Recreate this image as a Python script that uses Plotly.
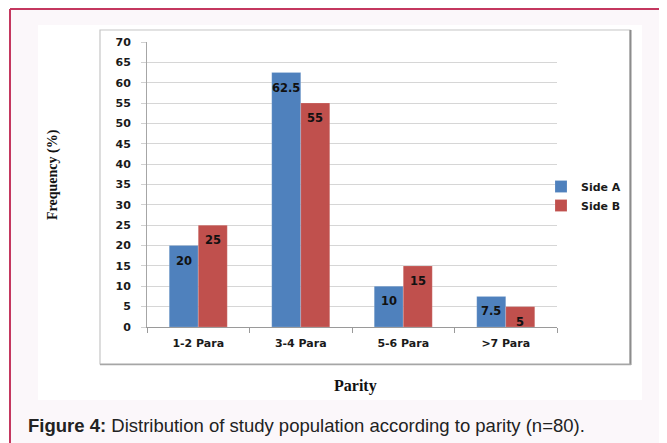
import plotly.graph_objects as go

categories = ["1-2 Para", "3-4 Para", "5-6 Para", ">7 Para"]
side_a = [20, 62.5, 10, 7.5]
side_b = [25, 55, 15, 5]
series_names = ["Side A", "Side B"]
y_ticks = list(range(0, 75, 5))

# page is offset by the default 8px body margin
OFF = 8
W, H = 667 - OFF, 443 - OFF
# plot area in page coordinates: x 147..557, y 42..327
PX0, PX1, PY0, PY1 = 147, 557, 42, 327
ML, MT = PX0 - OFF, PY0 - OFF
MR, MB = 667 - PX1, 443 - PY1
PW = PX1 - PX0
PH = PY1 - PY0


def px(x):
    return (x - PX0) / PW


def py(y):
    return (PY1 - y) / PH


BLUE = "#4f81bd"
RED = "#c0504d"
TICKFONT = dict(family="DejaVu Sans", size=11, color="#1a1a1a", weight="bold")

fig = go.Figure()
for name, vals, col in [(series_names[0], side_a, BLUE), (series_names[1], side_b, RED)]:
    fig.add_trace(go.Bar(
        x=categories, y=vals, name=name,
        marker=dict(color=col, line=dict(color="rgba(255,255,255,0.35)", width=0.5)),
    ))

# data labels
for vals, shift in [(side_a, -14.5), (side_b, 14.5)]:
    for c, v in zip(categories, vals):
        fig.add_annotation(
            x=c, y=v, xref="x", yref="y", text="%g" % v,
            showarrow=False, xshift=shift, yshift=-15, yanchor="middle",
            font=dict(family="DejaVu Sans", size=11.5, color="#111111", weight="bold"),
        )

shapes = [
    dict(type="rect", xref="paper", yref="paper", x0=px(10), x1=px(667), y0=py(443), y1=py(9),
         fillcolor="#fbf7fa", line=dict(width=0), layer="below"),
    dict(type="rect", xref="paper", yref="paper", x0=px(38), x1=px(642), y0=py(400), y1=py(25),
         fillcolor="#ffffff", line=dict(width=0), layer="below"),
    dict(type="rect", xref="paper", yref="paper", x0=px(100), x1=px(630), y0=py(364), y1=py(30),
         fillcolor="#ffffff", line=dict(color="#c6c6c6", width=1.2), layer="below"),
    dict(type="line", xref="paper", yref="paper", x0=px(630.5), x1=px(630.5), y0=py(365), y1=py(30),
         line=dict(color="#8c8c8c", width=2), layer="below"),
    dict(type="line", xref="paper", yref="paper", x0=px(100), x1=px(631), y0=py(364.5), y1=py(364.5),
         line=dict(color="#a6a6a6", width=1.5), layer="below"),
    dict(type="line", xref="paper", yref="paper", x0=px(10), x1=px(667), y0=py(9), y1=py(9),
         line=dict(color="#c4375f", width=2), layer="below"),
    dict(type="line", xref="paper", yref="paper", x0=px(10), x1=px(10), y0=py(443), y1=py(9),
         line=dict(color="#c4375f", width=2), layer="below"),
]

annotations = [
    dict(text="<b>Frequency (%)</b>", xref="paper", yref="paper", x=px(53), y=py(175),
         textangle=-90, showarrow=False, xanchor="center", yanchor="middle",
         font=dict(family="Liberation Serif", size=14, color="#111111")),
    dict(text="<b>Parity</b>", xref="paper", yref="paper", x=px(355), y=py(386),
         showarrow=False, xanchor="center", yanchor="middle",
         font=dict(family="Liberation Serif", size=16, color="#111111")),
    dict(text="<b>Figure 4:</b> Distribution of study population according to parity (n=80).",
         xref="paper", yref="paper", x=px(26), y=py(425), showarrow=False,
         xanchor="left", yanchor="middle",
         font=dict(family="Liberation Sans", size=18.5, color="#222222")),
]
for a in annotations:
    fig.add_annotation(**a)

fig.update_layout(
    width=W, height=H,
    margin=dict(l=ML, r=MR, t=MT, b=MB, pad=0),
    paper_bgcolor="#ffffff",
    plot_bgcolor="rgba(0,0,0,0)",
    barmode="group", bargap=0.434, bargroupgap=0,
    shapes=shapes,
    showlegend=True,
    legend=dict(x=px(541), y=py(196), xanchor="left", yanchor="middle",
                bgcolor="rgba(0,0,0,0)", borderwidth=0,
                font=dict(family="DejaVu Sans", size=11, color="#1a1a1a", weight="bold"),
                tracegroupgap=0, itemclick=False),
    xaxis=dict(
        type="category", categoryorder="array", categoryarray=categories,
        showline=True, linecolor="#9a9a9a", linewidth=1,
        ticks="outside", tickson="boundaries", ticklen=5, tickcolor="#9a9a9a",
        showgrid=False, tickfont=TICKFONT, ticklabelstandoff=6,
    ),
    yaxis=dict(
        range=[0, 70], tickvals=y_ticks,
        showline=True, linecolor="#a6a6a6", linewidth=1,
        ticks="outside", ticklen=5, tickcolor="#d0d0d0",
        showgrid=True, gridcolor="#d6d6d6", gridwidth=1,
        zeroline=False, tickfont=TICKFONT, ticklabelstandoff=8,
    ),
)

fig.write_html("out.html")
